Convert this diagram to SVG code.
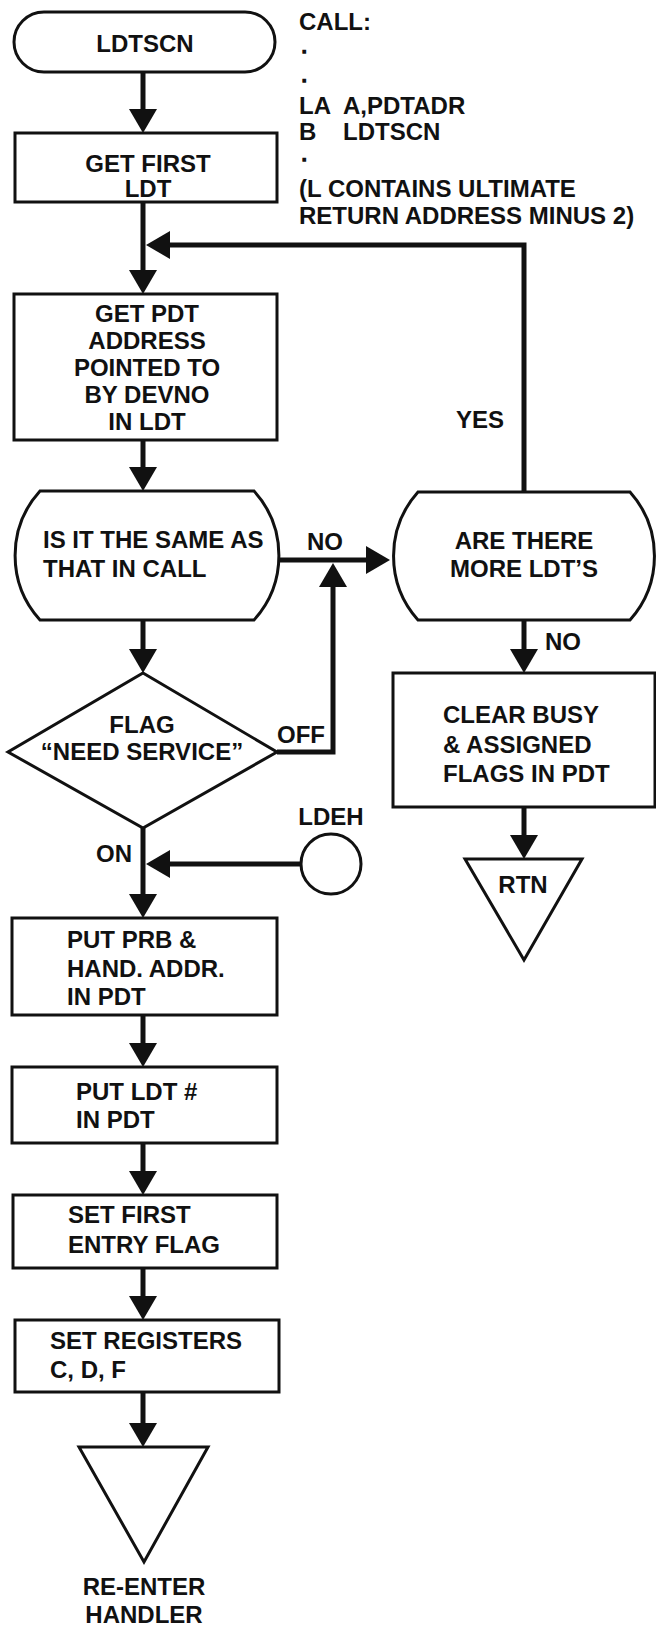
<svg xmlns="http://www.w3.org/2000/svg" width="656" height="1627" viewBox="0 0 656 1627">
  <style>
    .shape { fill: #fff; stroke: #111; stroke-width: 3; stroke-linejoin: miter; }
    .wire { fill: none; stroke: #111; stroke-width: 5; }
    .t { font-family: "Liberation Sans", Arial, sans-serif; font-weight: bold; font-size: 24px; fill: #111; }
    .dot { font-family: "Liberation Sans", Arial, sans-serif; font-weight: bold; font-size: 16px; fill: #111; stroke: #111; stroke-width: 1.5; }
    .c { text-anchor: middle; }
  </style>
  <defs>
    <marker id="ah" markerUnits="userSpaceOnUse" viewBox="0 0 24 28" refX="14" refY="14" markerWidth="24" markerHeight="28" orient="auto">
      <path d="M0,0 L24,14 L0,28 Z" fill="#111"/>
    </marker>
  </defs>
  <rect width="656" height="1627" fill="#fff"/>

  <!-- connectors -->
  <g id="connectors">
    <path class="wire" d="M143,72 V123" marker-end="url(#ah)"/>
    <path class="wire" d="M143,202 V284" marker-end="url(#ah)"/>
    <path class="wire" d="M524,492 V245 H156" marker-end="url(#ah)"/>
    <path class="wire" d="M143,440 V481" marker-end="url(#ah)"/>
    <path class="wire" d="M277,560 H380" marker-end="url(#ah)"/>
    <path class="wire" d="M143,620 V663" marker-end="url(#ah)"/>
    <path class="wire" d="M277,752 H333 V573" marker-end="url(#ah)"/>
    <path class="wire" d="M524,620 V663" marker-end="url(#ah)"/>
    <path class="wire" d="M524,807 V849" marker-end="url(#ah)"/>
    <path class="wire" d="M143,828 V908" marker-end="url(#ah)"/>
    <path class="wire" d="M301,864 H156" marker-end="url(#ah)"/>
    <path class="wire" d="M143,1015 V1057" marker-end="url(#ah)"/>
    <path class="wire" d="M143,1143 V1185" marker-end="url(#ah)"/>
    <path class="wire" d="M143,1268 V1310" marker-end="url(#ah)"/>
    <path class="wire" d="M143,1392 V1437" marker-end="url(#ah)"/>
    <text class="t" x="307" y="550">NO</text>
    <text class="t" x="456" y="428">YES</text>
    <text class="t" x="545" y="650">NO</text>
    <text class="t" x="277" y="743">OFF</text>
    <text class="t" x="96" y="862">ON</text>
  </g>

  <!-- calling sequence note -->
  <g id="call-note">
    <text class="t">
      <tspan x="299" y="30">CALL:</tspan>
      <tspan x="299" y="114">LA</tspan>
      <tspan x="343" y="114">A,PDTADR</tspan>
      <tspan x="299" y="140">B</tspan>
      <tspan x="343" y="140">LDTSCN</tspan>
      <tspan x="299" y="197">(L CONTAINS ULTIMATE</tspan>
      <tspan x="299" y="224">RETURN ADDRESS MINUS 2)</tspan>
    </text>
    <text class="dot" x="302" y="53">.</text>
    <text class="dot" x="302" y="82">.</text>
    <text class="dot" x="302" y="161">.</text>
  </g>

  <g id="start">
    <rect class="shape" x="14" y="12" width="261" height="60" rx="30"/>
    <text class="t c" x="145" y="52">LDTSCN</text>
  </g>

  <g id="get-first">
    <rect class="shape" x="15" y="133" width="262" height="69"/>
    <text class="t c" x="148" y="172">GET FIRST</text>
    <text class="t c" x="148" y="197">LDT</text>
  </g>

  <g id="get-pdt">
    <rect class="shape" x="14" y="294" width="263" height="146"/>
    <text class="t c" x="147" y="322">GET PDT</text>
    <text class="t c" x="147" y="349">ADDRESS</text>
    <text class="t c" x="147" y="376">POINTED TO</text>
    <text class="t c" x="147" y="403">BY DEVNO</text>
    <text class="t c" x="147" y="430">IN LDT</text>
  </g>

  <g id="same-as-call">
    <path class="shape" d="M40,491 H254 A96,96 0 0 1 254,620 H40 A96,96 0 0 1 40,491 Z"/>
    <text class="t" x="43" y="548">IS IT THE SAME AS</text>
    <text class="t" x="43" y="577">THAT IN CALL</text>
  </g>

  <g id="more-ldts">
    <path class="shape" d="M418,492 H630 A96,96 0 0 1 630,620 H418 A96,96 0 0 1 418,492 Z"/>
    <text class="t c" x="524" y="549">ARE THERE</text>
    <text class="t c" x="524" y="577">MORE LDT’S</text>
  </g>

  <g id="need-service">
    <polygon class="shape" points="143,673 277,752 143,828 8,752"/>
    <text class="t c" x="142" y="733">FLAG</text>
    <text class="t c" x="142" y="760">“NEED SERVICE”</text>
  </g>

  <g id="clear-busy">
    <rect class="shape" x="393" y="673" width="262" height="134"/>
    <text class="t" x="443" y="723">CLEAR BUSY</text>
    <text class="t" x="443" y="753">&amp; ASSIGNED</text>
    <text class="t" x="443" y="782">FLAGS IN PDT</text>
  </g>

  <g id="rtn">
    <polygon class="shape" points="465,859 582,859 524,960"/>
    <text class="t c" x="523" y="893">RTN</text>
  </g>

  <g id="ldeh">
    <circle class="shape" cx="331" cy="864" r="30"/>
    <text class="t c" x="331" y="825">LDEH</text>
  </g>

  <g id="put-prb">
    <rect class="shape" x="12" y="918" width="265" height="97"/>
    <text class="t" x="67" y="948">PUT PRB &amp;</text>
    <text class="t" x="67" y="977">HAND. ADDR.</text>
    <text class="t" x="67" y="1005">IN PDT</text>
  </g>

  <g id="put-ldt">
    <rect class="shape" x="12" y="1067" width="265" height="76"/>
    <text class="t" x="76" y="1100">PUT LDT #</text>
    <text class="t" x="76" y="1128">IN PDT</text>
  </g>

  <g id="set-first">
    <rect class="shape" x="13" y="1195" width="264" height="73"/>
    <text class="t" x="68" y="1223">SET FIRST</text>
    <text class="t" x="68" y="1253">ENTRY FLAG</text>
  </g>

  <g id="set-registers">
    <rect class="shape" x="15" y="1320" width="264" height="72"/>
    <text class="t" x="50" y="1349">SET REGISTERS</text>
    <text class="t" x="50" y="1378">C, D, F</text>
  </g>

  <g id="re-enter">
    <polygon class="shape" points="79,1447 208,1447 144,1562"/>
    <text class="t c" x="144" y="1595">RE-ENTER</text>
    <text class="t c" x="144" y="1623">HANDLER</text>
  </g>
</svg>
